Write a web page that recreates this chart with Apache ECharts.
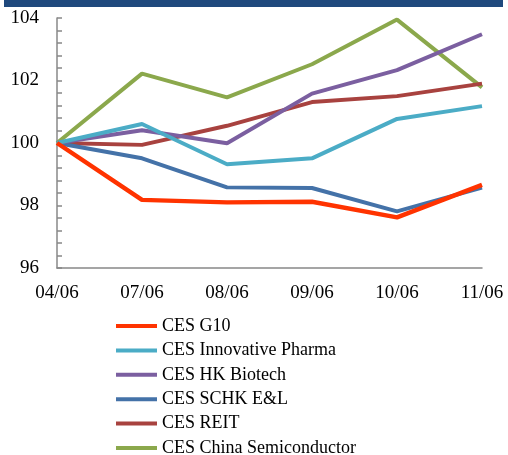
<!DOCTYPE html>
<html>
<head>
<meta charset="utf-8">
<script src="https://cdn.jsdelivr.net/npm/echarts@6/dist/echarts.min.js"></script>
<style>
html,body{margin:0;padding:0;background:#fff;}
#c{width:508px;height:455px;}
</style>
</head>
<body>
<div id="c"></div>
<script>
var categories = ['04/06','07/06','08/06','09/06','10/06','11/06'];
var g10 = [100, 98.18, 98.10, 98.12, 97.62, 98.66];
var pharma = [100, 100.61, 99.32, 99.51, 100.77, 101.18];
var hkBiotech = [100, 100.41, 99.99, 101.58, 102.33, 103.48];
var schk = [100, 99.51, 98.58, 98.56, 97.81, 98.57];
var reit = [100, 99.94, 100.55, 101.31, 101.50, 101.90];
var semi = [100, 102.22, 101.46, 102.52, 103.95, 101.78];
var names = ['CES G10','CES Innovative Pharma','CES HK Biotech','CES SCHK E&L','CES REIT','CES China Semiconductor'];
var colors = ['#FF3300','#4BACC6','#7B5FA0','#4472A8','#A8423F','#8BA84C'];
var dataSets = [g10, pharma, hkBiotech, schk, reit, semi];

var font = '"Liberation Serif", "Times New Roman", serif';
var chart = echarts.init(document.getElementById('c'));
var series = dataSets.map(function(d, i){
  return {
    name: names[i], type: 'line', data: d, symbol: 'none',
    lineStyle: {color: colors[i], width: i === 0 ? 4.5 : 4},
    itemStyle: {color: colors[i]},
    z: 10 - i
  };
});
chart.setOption({
  animation: false,
  color: colors,
  graphic: [{type:'rect', shape:{x:4, y:0, width:499, height:7}, style:{fill:'#1F497D'}}],
  grid: {left: 57, right: 26, top: 18, bottom: 187, containLabel: false},
  xAxis: {
    type: 'category', data: categories, boundaryGap: false,
    axisLine: {lineStyle: {color: '#888', width: 1.5}},
    axisTick: {show: false},
    axisLabel: {color: '#000', fontFamily: font, fontSize: 19, margin: 16, interval: 0}
  },
  yAxis: {
    type: 'value', min: 96, max: 104, interval: 2,
    axisLine: {show: true, lineStyle: {color: '#888', width: 1.5}},
    axisTick: {show: true, inside: true, length: 5, lineStyle: {color: '#888', width: 1.5}},
    minorTick: {show: true, splitNumber: 5, length: 5, lineStyle: {color: '#888', width: 1.5}},
    splitLine: {show: false},
    axisLabel: {color: '#000', fontFamily: font, fontSize: 19, margin: 18, padding: [6, 0, 0, 0]}
  },
  legend: {
    orient: 'vertical', left: 116, top: 317, height: 170, padding: 0,
    itemWidth: 41, itemHeight: 4, itemGap: 6.4,
    icon: 'rect',
    data: names,
    textStyle: {color: '#000', fontFamily: font, fontSize: 18, lineHeight: 18}
  },
  series: series
});
</script>
</body>
</html>
